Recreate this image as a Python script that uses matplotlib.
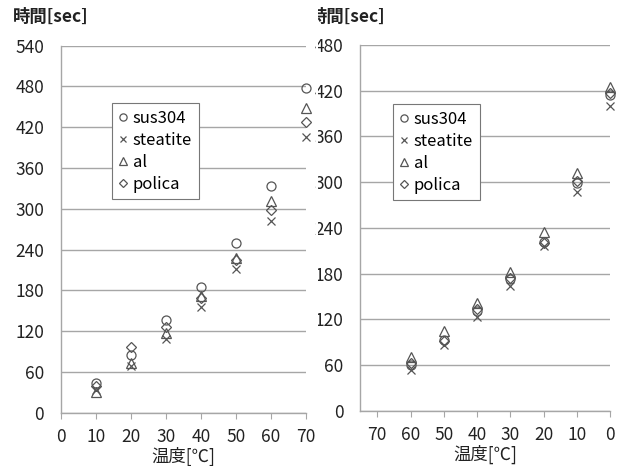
import matplotlib
matplotlib.use("Agg")
import matplotlib.pyplot as plt
from matplotlib.patches import Rectangle

plt.rcParams['font.family'] = ['Noto Sans CJK JP', 'DejaVu Sans']

# left chart: heating (temperature rising)
temp_up = [10, 20, 30, 40, 50, 60, 70]
up_sus304 = [43, 85, 136, 185, 249, 333, 478]
up_steatite = [33, 68, 108, 155, 211, 282, 405]
up_al = [31, 73, 118, 172, 228, 311, 449]
up_polica = [40, 97, 126, 169, 225, 298, 428]

# right chart: cooling (temperature falling)
temp_down = [60, 50, 40, 30, 20, 10, 0]
down_sus304 = [60, 93, 131, 173, 222, 299, 415]
down_steatite = [53, 86, 123, 164, 216, 287, 400]
down_al = [70, 104, 142, 182, 234, 312, 425]
down_polica = [62, 92, 133, 174, 220, 301, 417]

names = ['sus304', 'steatite', 'al', 'polica']
markers = ['o', 'x', '^', 'D']
sizes = [6.5, 6, 6.5, 5]
mcol = '#555555'
gcol = '#a6a6a6'
tcol = '#222222'

W, H = 618, 466
fig = plt.figure(figsize=(W / 100, H / 100), dpi=100)


def px_axes(x0, x1, y0, y1):
    return fig.add_axes([x0 / W, 1 - y1 / H, (x1 - x0) / W, (y1 - y0) / H])


def style(ax, ymax, xlim, xticks):
    ax.set_ylim(0, ymax)
    ax.set_xlim(*xlim)
    ax.set_yticks(range(0, ymax + 1, 60))
    ax.set_xticks(xticks)
    ax.grid(axis='y', color=gcol, linewidth=1.0)
    ax.set_axisbelow(True)
    for s in ['top', 'right']:
        ax.spines[s].set_visible(False)
    for s in ['left', 'bottom']:
        ax.spines[s].set_color(gcol)
        ax.spines[s].set_linewidth(1.0)
    ax.tick_params(axis='y', length=0, pad=12, labelsize=12.5, labelcolor=tcol)
    ax.tick_params(axis='x', length=4, color=gcol, pad=7, labelsize=12.5,
                   labelcolor=tcol, direction='out')
    ax.set_xlabel('温度[℃]', fontsize=12.5, labelpad=0.5, color=tcol)


def draw(ax, x, series, loc):
    for name, vals, m, s in zip(names, series, markers, sizes):
        ax.plot(x, vals, linestyle='none', marker=m, markersize=s,
                markerfacecolor='none', markeredgecolor=mcol,
                markeredgewidth=0.9, color=mcol, label=name, clip_on=False)
    leg = ax.legend(loc='upper left', bbox_to_anchor=loc, fontsize=12,
                    markerscale=0.8, handlelength=0.5, handletextpad=0.35,
                    borderpad=0.4, labelspacing=0.3, borderaxespad=0,
                    fancybox=False, framealpha=1, edgecolor='#777777')
    leg.get_frame().set_linewidth(0.8)


ax1 = px_axes(60.7, 306, 45.7, 412.7)
draw(ax1, temp_up, [up_sus304, up_steatite, up_al, up_polica],
     ((112 - 60.7) / 245.3, (412.7 - 103) / 367))
style(ax1, 540, (0, 70), range(0, 71, 10))

ax2 = px_axes(360, 610, 45, 410.7)
draw(ax2, temp_down, [down_sus304, down_steatite, down_al, down_polica],
     ((393 - 360) / 250, (410.7 - 104) / 365.7))
style(ax2, 480, (75.2, 0), range(70, -1, -10))

fig.text(13 / W, 1 - 17 / H, '時間[sec]', fontsize=12.5, fontweight='bold',
         va='center', ha='left', color=tcol)
fig.text(310 / W, 1 - 17 / H, '時間[sec]', fontsize=12.5, fontweight='bold',
         va='center', ha='left', color=tcol)

# the right panel was cropped against the left one
fig.add_artist(Rectangle((315.5 / W, 0), 2.5 / W, 1, transform=fig.transFigure,
                         facecolor='white', edgecolor='none', zorder=10))
fig.add_artist(Rectangle((300 / W, 1 - 32 / H), 17 / W, 32 / H,
                         transform=fig.transFigure,
                         facecolor='white', edgecolor='none', zorder=10))

fig.savefig('out.png', dpi=100)
